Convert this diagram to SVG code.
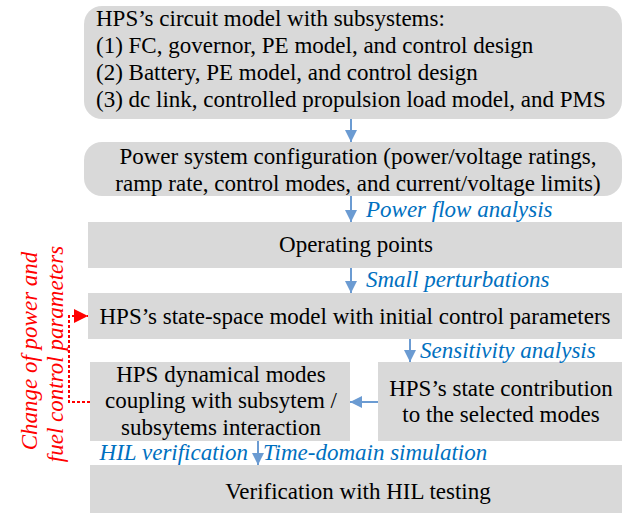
<svg xmlns="http://www.w3.org/2000/svg" width="628" height="516" viewBox="0 0 628 516">
  <style>
    .box { fill: #d9d9d9; }
    .t { font-family: "Liberation Serif", "Times New Roman", serif; font-size: 23px; fill: #000; }
    .c { text-anchor: middle; }
    .lbl { font-family: "Liberation Serif", "Times New Roman", serif; font-size: 23px; font-style: italic; fill: #0070c0; }
    .red { font-family: "Liberation Serif", "Times New Roman", serif; font-size: 23px; font-style: italic; fill: #ff0000; text-anchor: middle; }
    .flow { stroke: #6b9bd2; stroke-width: 2; fill: none; }
    .fb { stroke: #ff0000; stroke-width: 2; stroke-dasharray: 3 2; fill: none; }
  </style>
  <defs>
    <marker id="blueHead" viewBox="0 0 10 10" refX="10" refY="5" markerWidth="6" markerHeight="6" markerUnits="strokeWidth" orient="auto">
      <path d="M0,0 L10,5 L0,10 Z" fill="#6b9bd2"/>
    </marker>
    <marker id="redHead" viewBox="0 0 10 10" refX="10" refY="5" markerWidth="7" markerHeight="7" markerUnits="strokeWidth" orient="auto">
      <path d="M0,0 L10,5 L0,10 Z" fill="#ff0000"/>
    </marker>
  </defs>

  <rect width="628" height="516" fill="#ffffff"/>

  <!-- side note on the feedback loop -->
  <g id="feedback-note">
    <text class="red" transform="translate(37,351) rotate(-90)">Change of power and</text>
    <text class="red" transform="translate(63,354) rotate(-90)">fuel control parameters</text>
  </g>

  <g id="circuit-model">
    <rect class="box" x="84" y="6" width="538" height="113" rx="18"/>
    <text class="t" x="96" y="26">HPS’s circuit model with subsystems:</text>
    <text class="t" x="96" y="53">(1) FC, governor, PE model, and control design</text>
    <text class="t" x="96" y="80">(2) Battery, PE model, and control design</text>
    <text class="t" x="96" y="107">(3) dc link, controlled propulsion load model, and PMS</text>
  </g>

  <g id="system-config">
    <rect class="box" x="84" y="142" width="538" height="54" rx="18"/>
    <text class="t c" x="358" y="164">Power system configuration (power/voltage ratings,</text>
    <text class="t c" x="358" y="191">ramp rate, control modes, and current/voltage limits)</text>
  </g>

  <g id="operating-points">
    <rect class="box" x="88" y="222" width="534" height="46"/>
    <text class="t c" x="356" y="252">Operating points</text>
  </g>

  <g id="state-space-model">
    <rect class="box" x="88" y="293" width="534" height="46"/>
    <text class="t c" x="355" y="324">HPS’s state-space model with initial control parameters</text>
  </g>

  <g id="dynamical-modes">
    <rect class="box" x="90" y="362" width="260" height="79"/>
    <text class="t c" x="221" y="382">HPS dynamical modes</text>
    <text class="t c" x="221" y="408">coupling with subsytem /</text>
    <text class="t c" x="221" y="435">subsytems interaction</text>
  </g>

  <g id="state-contribution">
    <rect class="box" x="378" y="362" width="244" height="79"/>
    <text class="t c" x="501" y="396">HPS’s state contribution</text>
    <text class="t c" x="501" y="422">to the selected modes</text>
  </g>

  <g id="hil-testing">
    <rect class="box" x="90" y="465" width="532" height="48"/>
    <text class="t c" x="358" y="499">Verification with HIL testing</text>
  </g>

  <g id="connectors">
    <line class="flow" x1="351" y1="119" x2="351" y2="142" marker-end="url(#blueHead)"/>
    <line class="flow" x1="351" y1="196" x2="351" y2="222" marker-end="url(#blueHead)"/>
    <line class="flow" x1="351" y1="268" x2="351" y2="293" marker-end="url(#blueHead)"/>
    <line class="flow" x1="410" y1="339" x2="410" y2="362" marker-end="url(#blueHead)"/>
    <line class="flow" x1="378" y1="402" x2="350" y2="402" marker-end="url(#blueHead)"/>
    <line class="flow" x1="258" y1="441" x2="258" y2="465" marker-end="url(#blueHead)"/>
    <polyline class="fb" points="90,402 69,402 69,316 88,316" marker-end="url(#redHead)"/>

    <text class="lbl" x="366" y="217">Power flow analysis</text>
    <text class="lbl" x="366" y="287">Small perturbations</text>
    <text class="lbl" x="420" y="358">Sensitivity analysis</text>
    <text class="lbl" x="248" y="460" text-anchor="end">HIL verification</text>
    <text class="lbl" x="263" y="460">Time-domain simulation</text>
  </g>
</svg>
